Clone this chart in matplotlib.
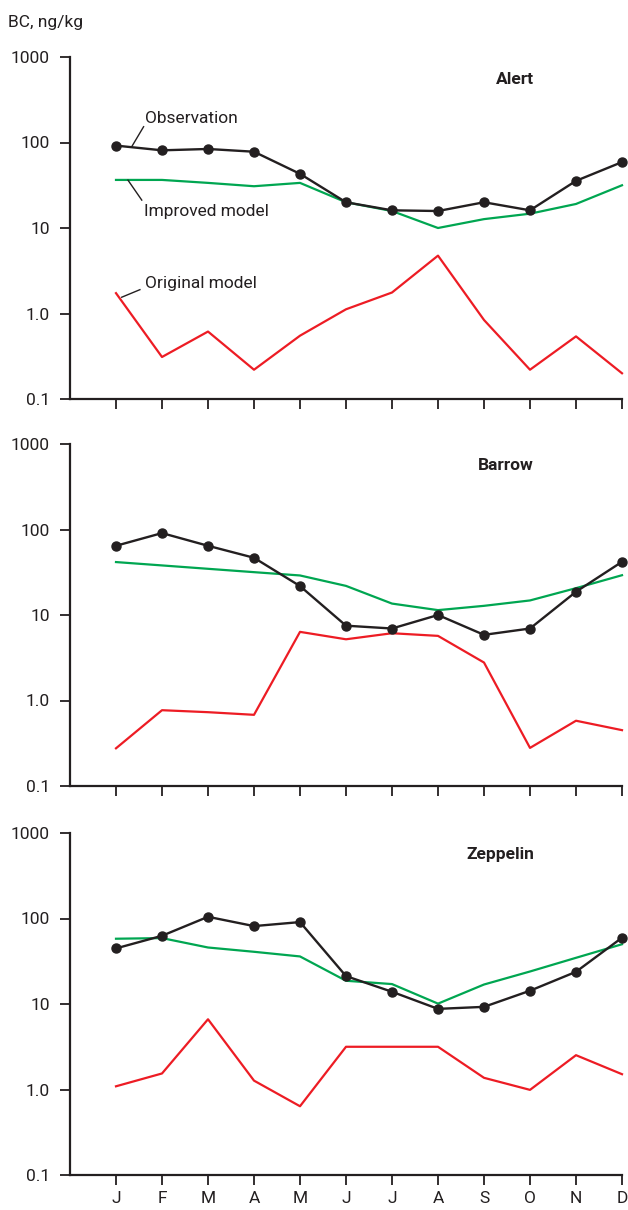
import matplotlib
matplotlib.use("Agg")
import matplotlib.pyplot as plt
import numpy as np

plt.rcParams['font.family'] = ['Roboto', 'DejaVu Sans']

months = ["J", "F", "M", "A", "M", "J", "J", "A", "S", "O", "N", "D"]
stations = ["Alert", "Barrow", "Zeppelin"]

# Monthly BC concentrations (ng/kg)
alert_obs = [92, 81, 84, 78, 43, 20, 16.1, 15.8, 20, 16.1, 35.6, 59]
alert_improved = [36.5, 36.5, 33.7, 30.8, 33.7, 20, 15.8, 10, 12.7, 14.7, 19.1, 31.6]
alert_original = [1.73, 0.31, 0.615, 0.22, 0.55, 1.12, 1.76, 4.75, 0.84, 0.22, 0.54, 0.2]

barrow_obs = [64.5, 90.8, 64.5, 46.7, 21.8, 7.5, 6.95, 10.0, 5.86, 6.95, 18.7, 41.9]
barrow_improved = [41.6, 38, 34.7, 31.7, 29, 21.9, 13.6, 11.4, 12.8, 14.8, 20.6, 29.2]
barrow_original = [0.276, 0.77, 0.73, 0.68, 6.35, 5.2, 6.12, 5.7, 2.78, 0.279, 0.58, 0.45]

zeppelin_obs = [44.7, 62.8, 104.7, 81.5, 90.8, 21.2, 13.9, 8.77, 9.26, 14.3, 23.8, 59.6]
zeppelin_improved = [58, 59, 45.8, 40.8, 36, 18.7, 17.1, 10.1, 16.9, 24, 34.7, 50]
zeppelin_original = [1.09, 1.54, 6.63, 1.27, 0.637, 3.16, 3.16, 3.16, 1.37, 0.99, 2.52, 1.51]

ytick_vals = [0.1, 1, 10, 100, 1000]
ytick_labels = ["0.1", "1.0", "10", "100", "1000"]

obs_series = [alert_obs, barrow_obs, zeppelin_obs]
imp_series = [alert_improved, barrow_improved, zeppelin_improved]
org_series = [alert_original, barrow_original, zeppelin_original]

INK = "#231f20"
GREEN = "#00a651"
RED = "#ed1c24"
FS = 12.5

W, H = 628, 1210
fig = plt.figure(figsize=(W / 100, H / 100), dpi=100)

# panel extents in pixels: (top, bottom)
panels_px = [(57, 399), (444, 786), (833, 1175)]
left_px, right_px = 70, 622

x = np.arange(12)
axes = []
for i, (top, bot) in enumerate(panels_px):
    ax = fig.add_axes([left_px / W, 1 - bot / H, (right_px - left_px) / W, (bot - top) / H])
    axes.append(ax)
    ax.set_yscale("log")
    ax.set_ylim(0.1, 1000)
    ax.set_xlim(-1, 11)
    ax.plot(x, org_series[i], color=RED, lw=1.6, zorder=2, clip_on=False)
    ax.plot(x, imp_series[i], color=GREEN, lw=1.6, zorder=3, clip_on=False)
    ax.plot(x, obs_series[i], color=INK, lw=1.7, marker="o", ms=6.5, zorder=4, clip_on=False)

    ax.set_yticks(ytick_vals)
    ax.set_yticklabels(ytick_labels)
    ax.yaxis.set_minor_locator(matplotlib.ticker.NullLocator())
    ax.set_xticks(x)
    if i == 2:
        ax.set_xticklabels(months)
    else:
        ax.set_xticklabels([])
    for s in ["top", "right"]:
        ax.spines[s].set_visible(False)
    for s in ["left", "bottom"]:
        ax.spines[s].set_color(INK)
        ax.spines[s].set_linewidth(1.6)
    ax.tick_params(axis="both", direction="out", length=7.5, width=1.3, color=INK,
                   labelsize=FS, labelcolor=INK)
    ax.tick_params(axis="y", pad=7)
    ax.tick_params(axis="x", pad=4)
    ax.patch.set_visible(False)

    # station name, right-aligned
    name_y = [79, 466, 855][i]
    fig.text(534 / W, 1 - name_y / H, stations[i], ha="right", va="center",
             fontsize=FS, fontweight="bold", color=INK)

fig.text(8 / W, 1 - 22 / H, "BC, ng/kg", ha="left", va="center", fontsize=FS, color=INK)

# series labels with leader lines in the first panel
ax = axes[0]
ax.plot([0.34, 0.6], [89, 153], color=INK, lw=1.0, zorder=5)
ax.text(0.63, 193, "Observation", ha="left", va="center", fontsize=FS, color=INK)
ax.plot([0.26, 0.56], [36.3, 21.2], color=INK, lw=1.0, zorder=5)
ax.text(0.61, 15.7, "Improved model", ha="left", va="center", fontsize=FS, color=INK)
ax.plot([0.124, 0.52], [1.55, 1.9], color=INK, lw=1.0, zorder=5)
ax.text(0.63, 2.25, "Original model", ha="left", va="center", fontsize=FS, color=INK)

fig.savefig("out.png", dpi=100, facecolor="white")
